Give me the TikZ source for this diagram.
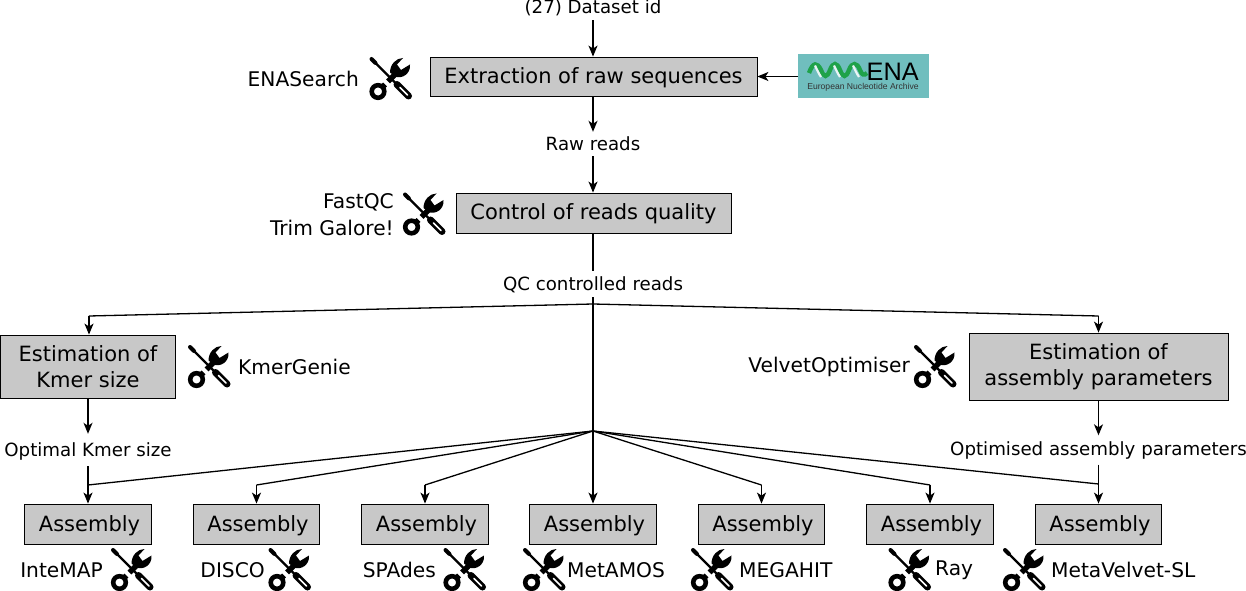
\documentclass[tikz,border=0pt]{standalone}
\usepackage{fontspec}
\setmainfont{DejaVu Sans}
\newfontfamily\enafont{Liberation Sans}
\usetikzlibrary{arrows.meta}
\definecolor{boxgray}{HTML}{C8C8C8}
\definecolor{enateal}{HTML}{70BEBE}
\definecolor{enagreen}{HTML}{1FA24A}
\tikzset{
  x=1bp,y=-1bp,
  procbox/.style={draw=black,fill=boxgray,line width=0.8bp,inner sep=0pt,align=center,font=\fontsize{21bp}{26bp}\selectfont},
  onelinebox/.style={procbox,text height=19bp,text depth=5bp},
  midlabel/.style={inner sep=0pt,align=center,font=\fontsize{18.2bp}{22bp}\selectfont},
  lowlabel/.style={midlabel,text height=17bp,text depth=4.5bp},
  toollabel/.style={inner sep=0pt,font=\fontsize{20.2bp}{27bp}\selectfont},
  conn/.style={line width=1.3bp,draw=black},
  arr/.style={conn,-{Stealth[length=11bp,width=9bp,inset=3bp]}},
  toolicon/.pic={
    % screwdriver
    \draw[line width=2.2bp,line cap=round] (-17,-17) -- (4,4);
    \draw[line width=4bp,line cap=round] (-19.5,-19.5) -- (-15.5,-15.5);
    \draw[line width=7bp,line cap=round] (6,6) -- (17.5,17.5);
    \draw[line width=1.6bp,white,line cap=round] (9,9) -- (16.5,16.5);
    % wrench
    \draw[line width=4.6bp] (-13,13) circle (6.3);
    \draw[line width=5.4bp] (-9,9) -- (-6,6);
    \draw[line width=5.4bp] (-3,3) -- (8,-8);
    \fill (-1,-6) .. controls (-1,-14) and (5,-20.5) .. (12,-20.5) -- (6,-14) -- (10,-8.5) -- (19,-14)
      .. controls (20,-5) and (11,1) .. (4,-2) -- cycle;
  }
}
\begin{document}
\begin{tikzpicture}
\useasboundingbox (0,0) rectangle (1246,591);
\clip (0,0) rectangle (1246,591);
% process boxes
\node[onelinebox,minimum width=327bp,minimum height=39bp] (extract) at (593.5,76.5) {Extraction of raw sequences};
\node[onelinebox,minimum width=275bp,minimum height=40bp] (quality) at (593.5,213) {Control of reads quality};
\node[procbox,minimum width=175bp,minimum height=63bp] (kmer) at (88,366.5) {Estimation of\\Kmer size};
\node[procbox,minimum width=259bp,minimum height=67bp] (params) at (1098.5,366.5) {Estimation of\\assembly parameters};
\foreach \n/\cx in {a/88,b/256.5,c/425,d/593,e/761.5,f/930,g/1098.5}{
  \node[onelinebox,minimum width=126.5bp,minimum height=40bp] (\n) at (\cx,524) {\hspace{3bp}Assembly};
}
% mid labels
\node[lowlabel,minimum height=26bp] (dataset) at (593,7) {(27) Dataset id};
\node[midlabel,minimum height=24bp] (raw) at (593,144) {Raw reads};
\node[lowlabel,minimum height=26bp] (qc) at (593,284) {QC controlled reads};
\node[lowlabel,minimum height=32bp] (optk) at (88,450) {Optimal Kmer size};
\node[midlabel,minimum height=29bp] (optp) at (1098.5,450) {Optimised assembly parameters};
% ENA logo
\node[fill=enateal,minimum width=131bp,minimum height=44bp,inner sep=0pt] (ena) at (863.5,76.5) {};
\draw[line width=4.4bp,enagreen] (809,73)
  .. controls (813,62) and (817,62) .. (821,70) .. controls (824,78) and (827,78) .. (830,70)
  .. controls (833,62) and (837,62) .. (840,70) .. controls (843,78) and (846,78) .. (849,70)
  .. controls (852,62) and (857,62) .. (860,70) .. controls (862,75) and (864,76) .. (867,73);
\draw[line width=2.2bp,white!85!enateal] (815,65.5)
  .. controls (817,70) and (819,74) .. (821,77) (834,65.5) .. controls (836,70) and (838,74) .. (840,77)
  (853,65.5) .. controls (855,70) and (857,74) .. (859,77);
\node[inner sep=0pt,anchor=west,text height=18bp,text depth=0bp,font=\enafont\fontsize{25.3bp}{26bp}\selectfont] (enatitle) at (866.5,71.5) {ENA};
\node[inner sep=0pt,text height=6.5bp,text depth=1.5bp,font=\enafont\fontsize{8.6bp}{9bp}\selectfont,text=black!80] (enasub) at (863,87.5) {European Nucleotide Archive};
% tool labels and icons
\node[toollabel,anchor=east] (t1) at (359,79) {ENASearch};
\pic at (391,78.5) {toolicon};
\node[toollabel,anchor=east,align=right] (t2) at (394,214.5) {FastQC\\Trim Galore!};
\pic at (424.5,214) {toolicon};
\node[toollabel,anchor=west] (t3) at (238,367) {KmerGenie};
\pic at (209.5,366.5) {toolicon};
\node[toollabel,anchor=east] (t4) at (910,367) {VelvetOptimiser};
\pic at (935.5,366.5) {toolicon};
\node[toollabel,anchor=east] (t5) at (103,570) {InteMAP};
\pic at (132.5,569.5) {toolicon};
\node[toollabel,anchor=east] (t6) at (265,570) {DISCO};
\pic at (290,569.5) {toolicon};
\node[toollabel,anchor=east] (t7) at (436,570) {SPAdes};
\pic at (465,569.5) {toolicon};
\pic at (544.5,569.5) {toolicon};
\node[toollabel,anchor=west] (t8) at (567,570) {MetAMOS};
\pic at (712.5,569.5) {toolicon};
\node[toollabel,anchor=west] (t9) at (739,570) {MEGAHIT};
\pic at (910,569.5) {toolicon};
\node[toollabel,anchor=west] (t10) at (935,570) {Ray};
\pic at (1024.5,569.5) {toolicon};
\node[toollabel,anchor=west] (t11) at (1051,570) {MetaVelvet-SL};
% junctions
\coordinate (hub1) at (593,304);
\coordinate (hub2) at (593,431);
\coordinate (jk) at (89,316);
\coordinate (jp) at (1098.5,316);
\coordinate (ja) at (88,485);
\coordinate (jb) at (256.5,485);
\coordinate (jc) at (425,485);
\coordinate (je) at (761.5,485);
\coordinate (jf) at (930,485);
\coordinate (jg) at (1098.5,484);
% connectors
\draw[arr] (dataset.south) -- (dataset.south|-extract.north);
\draw[arr] (ena.west) -- (extract.east);
\draw[arr] (raw.north|-extract.south) -- (raw.north);
\draw[arr] (raw.south) -- (raw.south|-quality.north);
\draw[conn] (qc.north|-quality.south) -- (qc.north);
\draw[arr] (qc.south) -- (d.north);
\draw[conn] (jk) -- (hub1) -- (jp);
\draw[arr] (jk) -- (jk|-kmer.north);
\draw[arr] (jp) -- (jp|-params.north);
\draw[arr] (kmer.south) -- (optk.north);
\draw[arr] (params.south) -- (optp.north);
\draw[arr] (optk.south) -- (a.north);
\draw[arr] (optp.south) -- (g.north);
\draw[conn] (hub2) -- (ja);
\draw[conn] (hub2) -- (jg);
\draw[conn] (hub2) -- (jb);
\draw[arr] (jb) -- (b.north);
\draw[conn] (hub2) -- (jc);
\draw[arr] (jc) -- (c.north);
\draw[conn] (hub2) -- (je);
\draw[arr] (je) -- (e.north);
\draw[conn] (hub2) -- (jf);
\draw[arr] (jf) -- (f.north);
\end{tikzpicture}
\end{document}
